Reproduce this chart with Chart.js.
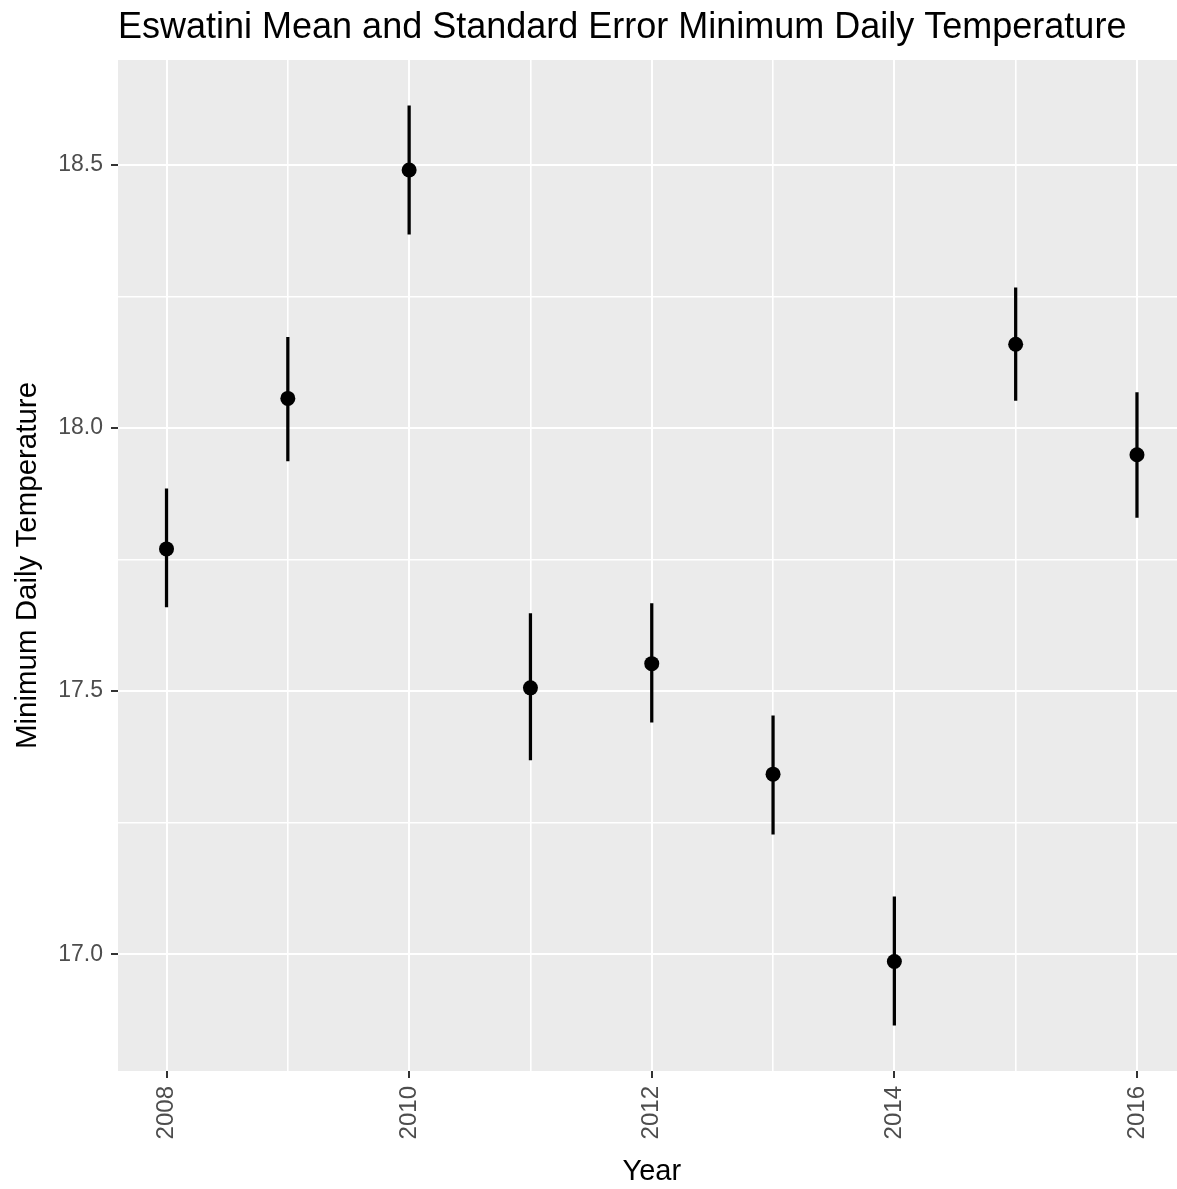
<html>
<head>
  <title>Eswatini Mean and Standard Error Minimum Daily Temperature</title>
  <style>
    html, body { margin: 0; background: #ffffff; overflow: hidden; }
    /* the reference image is cropped on the right, so the chart is a bit wider than the window */
    .wrap { width: 1193px; height: 1189px; position: relative; }
    canvas { display: block; }
  </style>
</head>
<body>
  <script src="https://cdn.jsdelivr.net/npm/chart.js@4.4.1/dist/chart.umd.min.js"></script>
  <div class="wrap">
    <canvas id="myChart"></canvas>
  </div>
  <script>
    // values
    const years = [2008, 2009, 2010, 2011, 2012, 2013, 2014, 2015, 2016];
    const meanTemp = [17.770, 18.056, 18.490, 17.506, 17.552, 17.342, 16.986, 18.159, 17.949];
    const lowerSE  = [17.660, 17.937, 18.368, 17.369, 17.441, 17.228, 16.865, 18.052, 17.830];
    const upperSE  = [17.884, 18.172, 18.612, 17.647, 17.666, 17.453, 17.109, 18.266, 18.067];

    // grid / tick positions (major every 0.5 and 2 years, minor in between)
    const yTicks = [17.0, 17.25, 17.5, 17.75, 18.0, 18.25, 18.5];
    const xTicks = [2008, 2009, 2010, 2011, 2012, 2013, 2014, 2015, 2016];
    const yRange = [16.778, 18.699];
    const xRange = [2007.6, 2016.4];

    const FONT = "Arial, 'Liberation Sans', Helvetica, sans-serif";
    const isMajorY = v => Math.abs(v * 2 - Math.round(v * 2)) < 1e-6;
    const isMajorX = v => v % 2 === 0;
    const tickVal = c => (c.tick ? c.tick.value : NaN);

    // grey panel like ggplot's theme_gray
    const panelBg = {
      id: "panelBg",
      beforeDraw(chart) {
        const { ctx, chartArea: a } = chart;
        ctx.save();
        ctx.fillStyle = "#EBEBEB";
        ctx.fillRect(a.left, a.top, a.right - a.left, a.bottom - a.top);
        ctx.restore();
      }
    };

    const data = {
      datasets: [
        {
          type: "scatter",
          label: "Mean",
          data: years.map((y, i) => ({ x: y, y: meanTemp[i] })),
          backgroundColor: "#000000",
          borderWidth: 0,
          pointRadius: 7.5,
          order: 0
        },
        {
          type: "bar",
          label: "Standard error",
          data: years.map((y, i) => ({ x: y, y: [lowerSE[i], upperSE[i]] })),
          backgroundColor: "#000000",
          borderWidth: 0,
          barThickness: 2.6,
          order: 1
        }
      ]
    };

    const config = {
      type: "scatter",
      data,
      plugins: [panelBg],
      options: {
        responsive: true,
        maintainAspectRatio: false,
        animation: false,
        layout: { padding: 0 },
        plugins: {
          legend: { display: false },
          tooltip: { enabled: false },
          title: {
            display: true,
            text: "Eswatini Mean and Standard Error Minimum Daily Temperature",
            align: "start",
            fullSize: false,
            color: "#000000",
            font: { family: FONT, size: 36, weight: "normal" },
            padding: { top: 6, bottom: 10.8 }
          }
        },
        scales: {
          x: {
            type: "linear",
            min: xRange[0],
            max: xRange[1],
            offset: false,
            border: { display: false },
            grid: {
              offset: false,
              color: "#ffffff",
              lineWidth: c => (isMajorX(tickVal(c)) ? 2 : 1.6),
              tickColor: c => (isMajorX(tickVal(c)) ? "#333333" : "rgba(0,0,0,0)"),
              tickWidth: 2,
              tickLength: 7
            },
            afterBuildTicks: scale => { scale.ticks = xTicks.map(v => ({ value: v })); },
            afterFit: scale => {
              scale.height = 118;
              scale.paddingLeft = 0;
              scale.paddingRight = 0;
            },
            ticks: {
              autoSkip: false,
              minRotation: 90,
              maxRotation: 90,
              padding: 8,
              color: "#4D4D4D",
              font: { family: FONT, size: 24 },
              callback: v => (isMajorX(v) ? String(v) : "")
            },
            title: {
              display: true,
              text: "Year",
              color: "#000000",
              font: { family: FONT, size: 29 },
              padding: { top: 0, bottom: 0 }
            }
          },
          y: {
            min: yRange[0],
            max: yRange[1],
            border: { display: false },
            grid: {
              color: "#ffffff",
              lineWidth: c => (isMajorY(tickVal(c)) ? 2 : 1.6),
              tickColor: c => (isMajorY(tickVal(c)) ? "#333333" : "rgba(0,0,0,0)"),
              tickWidth: 2,
              tickLength: 7
            },
            afterBuildTicks: scale => { scale.ticks = yTicks.map(v => ({ value: v })); },
            afterFit: scale => {
              scale.width = 118;
              scale.paddingTop = 0;
              scale.paddingBottom = 0;
            },
            ticks: {
              autoSkip: false,
              padding: 8,
              color: "#4D4D4D",
              font: { family: FONT, size: 23 },
              callback: v => (isMajorY(v) ? v.toFixed(1) : "")
            },
            title: {
              display: true,
              text: "Minimum Daily Temperature",
              color: "#000000",
              font: { family: FONT, size: 29.5 },
              padding: { top: 10, bottom: 0 }
            }
          }
        }
      }
    };

    const ctx = document.getElementById("myChart");
    const myChart = new Chart(ctx, config);
  </script>
</body>
</html>
